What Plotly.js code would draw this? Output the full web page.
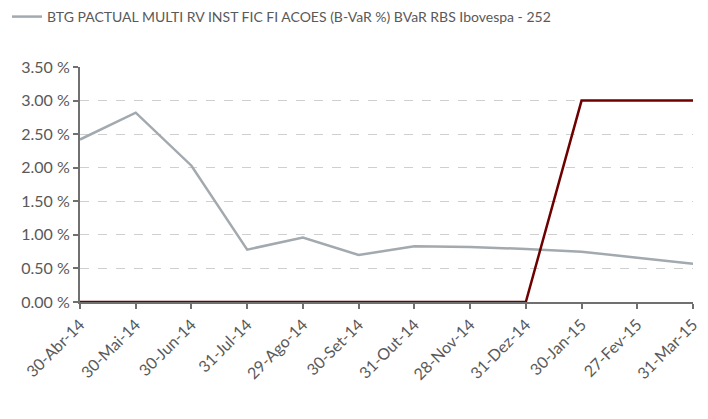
<!DOCTYPE html>
<html>
<head>
<meta charset="utf-8">
<script src="https://cdn.plot.ly/plotly-3.0.1.min.js"></script>
<style>body{margin:0;background:#fff}#chart{width:708px;height:419px}</style>
</head>
<body>
<div id="chart"></div>
<script>
const dates = ['30-Abr-14', '30-Mai-14', '30-Jun-14', '31-Jul-14', '29-Ago-14', '30-Set-14',
  '31-Out-14', '28-Nov-14', '31-Dez-14', '30-Jan-15', '27-Fev-15', '31-Mar-15'];
const bvarFund = [2.42, 2.82, 2.03, 0.78, 0.96, 0.70, 0.83, 0.82, 0.79, 0.75, 0.66, 0.57];
const bvarLimit = [0, 0, 0, 0, 0, 0, 0, 0, 0, 3.0, 3.0, 3.0];
const yTicks = [0, 0.5, 1, 1.5, 2, 2.5, 3, 3.5];

const font = "Lato, 'Open Sans', sans-serif";

const data = [
  {
    x: dates, y: bvarFund,
    type: 'scatter', mode: 'lines',
    name: 'BTG PACTUAL MULTI RV INST FIC FI ACOES (B-VaR %) BVaR RBS Ibovespa - 252',
    line: {color: '#a2a9af', width: 2.5}
  },
  {
    x: dates, y: bvarLimit,
    type: 'scatter', mode: 'lines',
    name: 'Limite',
    showlegend: false,
    line: {color: '#6e0000', width: 2.5}
  }
];

const layout = {
  width: 708, height: 419,
  margin: {l: 80, r: 15, t: 67, b: 117, autoexpand: false},
  paper_bgcolor: '#fff', plot_bgcolor: '#fff',
  font: {family: font, size: 16, color: '#595959'},
  showlegend: true,
  legend: {
    x: -73 / 613, y: 1 + 50 / 235, xanchor: 'left', yanchor: 'middle',
    font: {family: font, size: 14, color: '#595959'},
    itemwidth: 30
  },
  xaxis: {
    type: 'category',
    automargin: false,
    range: [0, dates.length - 1],
    showgrid: false, zeroline: false,
    showline: true, linecolor: '#707070', linewidth: 2,
    ticks: 'outside', ticklen: 5, tickcolor: '#707070', tickwidth: 2,
    tickangle: -45,
    tickfont: {size: 16, color: '#595959'}
  },
  yaxis: {
    automargin: false,
    range: [0, 3.5],
    tickvals: yTicks,
    ticktext: yTicks.map(v => v.toFixed(2) + ' %'),
    showgrid: true, gridcolor: '#cfcfcf', griddash: 'dash', gridwidth: 1,
    zeroline: false,
    showline: true, linecolor: '#707070', linewidth: 2,
    ticks: 'outside', ticklen: 5, tickcolor: '#707070', tickwidth: 2,
    tickfont: {size: 16, color: '#595959'}
  }
};

Plotly.newPlot('chart', data, layout, {displayModeBar: false});
</script>
</body>
</html>
